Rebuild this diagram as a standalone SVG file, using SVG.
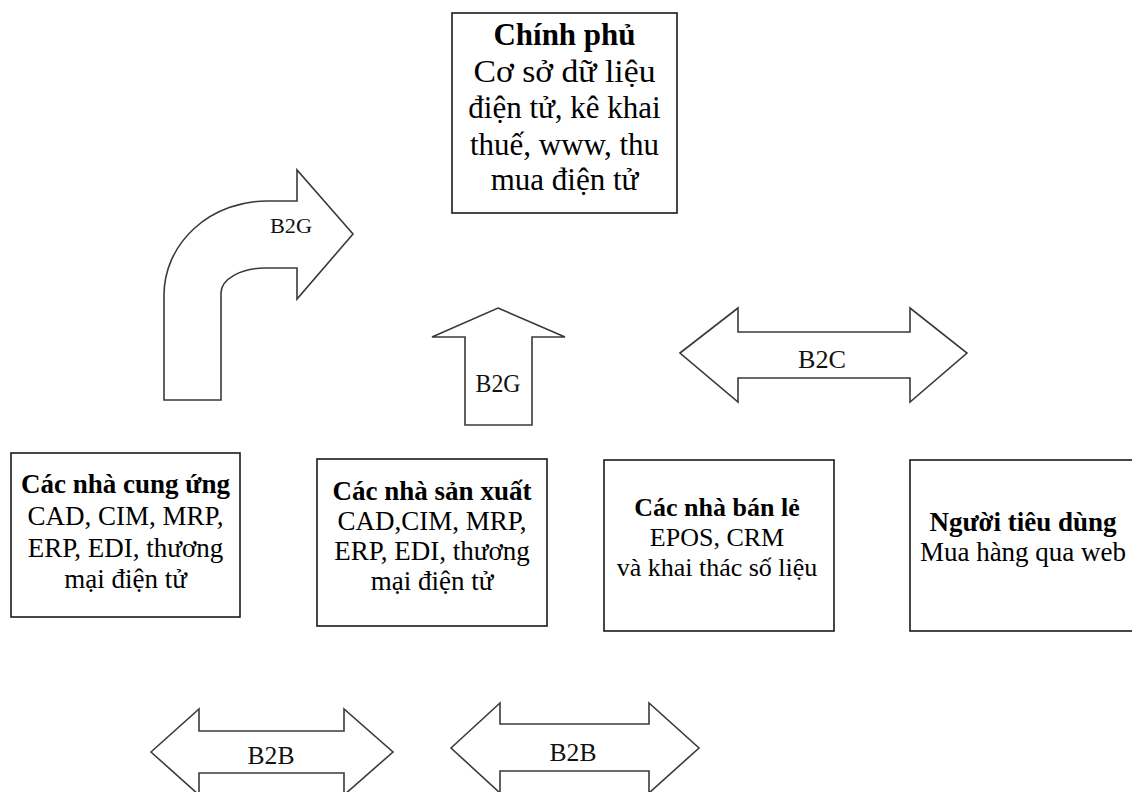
<svg xmlns="http://www.w3.org/2000/svg" width="1132" height="792" viewBox="0 0 1132 792">
  <style>
    .box { fill: #ffffff; stroke: #1a1a1a; stroke-width: 1.6; }
    .arrow { fill: #ffffff; stroke: #3a3a3a; stroke-width: 1.6; stroke-linejoin: miter; }
    text { font-family: 'Liberation Serif', Tinos, 'Times New Roman', Times, 'DejaVu Serif', serif; fill: #000; text-anchor: middle; }
    .b { font-weight: bold; }
    .lbl { fill: #111; }
  </style>
  <rect width="1132" height="792" fill="#ffffff"/>

  <!-- Government -->
  <g id="chinh-phu">
    <rect class="box" x="452" y="13" width="225" height="200"/>
    <text class="b" x="564.5" y="45" font-size="31">Chính phủ</text>
    <text x="564.5" y="82" font-size="31" textLength="182" lengthAdjust="spacingAndGlyphs">Cơ sở dữ liệu</text>
    <text x="564.5" y="118" font-size="31">điện tử, kê khai</text>
    <text x="564.5" y="155" font-size="31">thuế, www, thu</text>
    <text x="564.5" y="190" font-size="31">mua điện tử</text>
  </g>

  <!-- Suppliers -->
  <g id="nha-cung-ung">
    <rect class="box" x="11" y="453" width="229" height="164"/>
    <text class="b" x="125.5" y="493" font-size="27">Các nhà cung ứng</text>
    <text x="125.5" y="525" font-size="27">CAD, CIM, MRP,</text>
    <text x="125.5" y="557" font-size="27">ERP, EDI, thương</text>
    <text x="125.5" y="588" font-size="27">mại điện tử</text>
  </g>

  <!-- Manufacturers -->
  <g id="nha-san-xuat">
    <rect class="box" x="317" y="459" width="230" height="167"/>
    <text class="b" x="432" y="500" font-size="27">Các nhà sản xuất</text>
    <text x="432" y="530" font-size="27">CAD,CIM, MRP,</text>
    <text x="432" y="560" font-size="27">ERP, EDI, thương</text>
    <text x="432" y="590" font-size="27">mại điện tử</text>
  </g>

  <!-- Retailers -->
  <g id="nha-ban-le">
    <rect class="box" x="604" y="460" width="230" height="171"/>
    <text class="b" x="717" y="516" font-size="26">Các nhà bán lẻ</text>
    <text x="717" y="546" font-size="26">EPOS, CRM</text>
    <text x="717" y="576" font-size="26">và khai thác số liệu</text>
  </g>

  <!-- Consumers -->
  <g id="nguoi-tieu-dung">
    <rect class="box" x="910" y="460" width="240" height="171"/>
    <text class="b" x="1023" y="531" font-size="27">Người tiêu dùng</text>
    <text x="1023" y="561" font-size="27">Mua hàng qua web</text>
  </g>

  <!-- Connectors: block arrows -->
  <g id="connectors">
    <g id="b2g-curved">
      <path class="arrow" d="M164,400 L164,295 A103,94 0 0 1 267,201 L297,201 L297,170 L353,234 L297,299 L297,268 L265,268 A44,25 0 0 0 221,293 L221,400 Z"/>
      <text class="lbl" x="291" y="233" font-size="21" textLength="42" lengthAdjust="spacingAndGlyphs">B2G</text>
    </g>
    <g id="b2g-up">
      <path class="arrow" d="M498,308 L565,337 L532,337 L532,425 L465,425 L465,337 L432,337 Z"/>
      <text class="lbl" x="498" y="392" font-size="26" textLength="45" lengthAdjust="spacingAndGlyphs">B2G</text>
    </g>
    <g id="b2c">
      <path class="arrow" d="M680,353 L738,308 L738,332 L910,332 L910,308 L967,353 L910,402 L910,378 L738,378 L738,402 Z"/>
      <text class="lbl" x="822" y="368" font-size="26" textLength="48" lengthAdjust="spacingAndGlyphs">B2C</text>
    </g>
    <g id="b2b-left">
      <path class="arrow" d="M151,752 L199,709 L199,731 L344,731 L344,709 L393,752 L344,795 L344,773 L199,773 L199,795 Z"/>
      <text class="lbl" x="271" y="764" font-size="25" textLength="47" lengthAdjust="spacingAndGlyphs">B2B</text>
    </g>
    <g id="b2b-right">
      <path class="arrow" d="M451,748 L500,703 L500,724 L649,724 L649,703 L699,748 L649,793 L649,771 L500,771 L500,793 Z"/>
      <text class="lbl" x="573" y="761" font-size="25" textLength="47" lengthAdjust="spacingAndGlyphs">B2B</text>
    </g>
  </g>
</svg>
